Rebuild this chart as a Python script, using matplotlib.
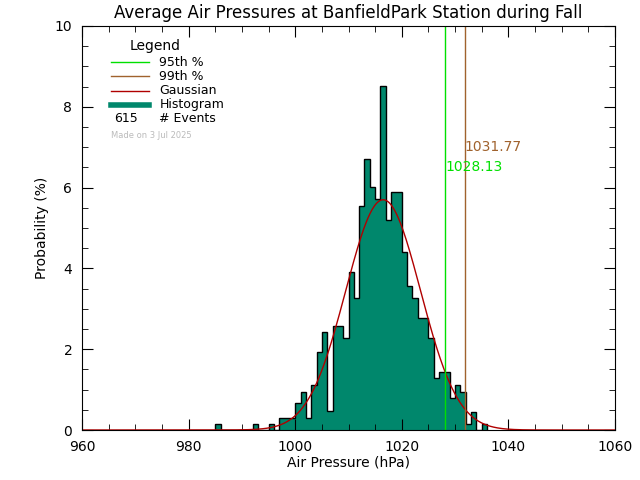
import numpy as np
import matplotlib
matplotlib.use("Agg")
import matplotlib.pyplot as plt

bin_left = [985, 992, 995, 997, 998, 999, 1000, 1001, 1002, 1003, 1004, 1005, 1006, 1007, 1008, 1009,
            1010, 1011, 1012, 1013, 1014, 1015, 1016, 1017, 1018, 1019, 1020, 1021, 1022, 1023, 1024,
            1025, 1026, 1027, 1028, 1029, 1030, 1031, 1032, 1033, 1034, 1035]
probs = [0.16, 0.16, 0.16, 0.3, 0.3, 0.3, 0.66, 0.95, 0.29, 1.11, 1.94, 2.43, 0.47, 2.58, 2.58, 2.27,
         3.9, 3.26, 5.55, 6.70, 6.02, 5.72, 8.51, 5.21, 5.88, 5.88, 4.40, 3.57, 3.26, 2.76, 2.76,
         2.27, 1.28, 1.44, 1.44, 0.78, 1.11, 0.95, 0.16, 0.45, 0.0, 0.14]
p95, p99 = 1028.13, 1031.77
g_mean, g_sigma, g_peak = 1016.5, 7.0, 5.7
n_events = 615

fig = plt.figure(figsize=(6.4, 4.8), dpi=100)
ax = fig.add_axes([82/640, 50/480, 533/640, 404/480])
edges = np.arange(min(bin_left), max(bin_left) + 2)
vals = np.zeros(len(edges) - 1)
for b, p in zip(bin_left, probs):
    vals[b - edges[0]] = p
ax.stairs(vals, edges, fill=True, color="#00876c", lw=0)
ax.stairs(vals, edges, color="black", lw=1.0)
x = np.linspace(960, 1060, 800)
ax.plot(x, g_peak*np.exp(-0.5*((x-g_mean)/g_sigma)**2), color="#b00000", lw=1)
ax.axvline(p95, color="#00e000", lw=1)
ax.axvline(p99, color="#a0622d", lw=1)
ax.text(p95, 6.4, f"{p95:.2f}", color="#00e000", fontsize=10)
ax.text(p99, 6.9, f"{p99:.2f}", color="#a0622d", fontsize=10)
ax.set_xlim(960, 1060); ax.set_ylim(0, 10)
ax.set_xticks([960, 980, 1000, 1020, 1040, 1060])
ax.set_xticks(np.arange(960, 1061, 5), minor=True)
ax.set_yticks([0, 2, 4, 6, 8, 10])
ax.set_yticks(np.arange(0, 10.1, 0.5), minor=True)
ax.tick_params(which="both", direction="in", top=True, right=True)
ax.tick_params(which="major", length=8)
ax.tick_params(which="minor", length=4)
ax.tick_params(axis="x", pad=7)
ax.tick_params(axis="y", pad=7)
ax.set_xlabel("Air Pressure (hPa)", labelpad=1)
ax.set_ylabel("Probability (%)")
ax.set_title("Average Air Pressures at BanfieldPark Station during Fall", fontsize=12)
lx0, lx1, tx = 965.5, 972.5, 974.5
ax.text(969, 9.5, "Legend", fontsize=10, va="center")
items = [("95th %", "#00e000", 1), ("99th %", "#a0622d", 1), ("Gaussian", "#b00000", 1), ("Histogram", "#00876c", 4)]
for i, (lab, c, w) in enumerate(items):
    yy = 9.1 - i*0.35
    ax.plot([lx0, lx1], [yy, yy], color=c, lw=w)
    ax.text(tx, yy, lab, fontsize=9, va="center")
ax.text(966, 7.7, str(n_events), fontsize=9, va="center")
ax.text(tx, 7.7, "# Events", fontsize=9, va="center")
ax.text(965.5, 7.3, "Made on 3 Jul 2025", fontsize=6, color="#bbbbbb", va="center")
fig.savefig("out.png")
